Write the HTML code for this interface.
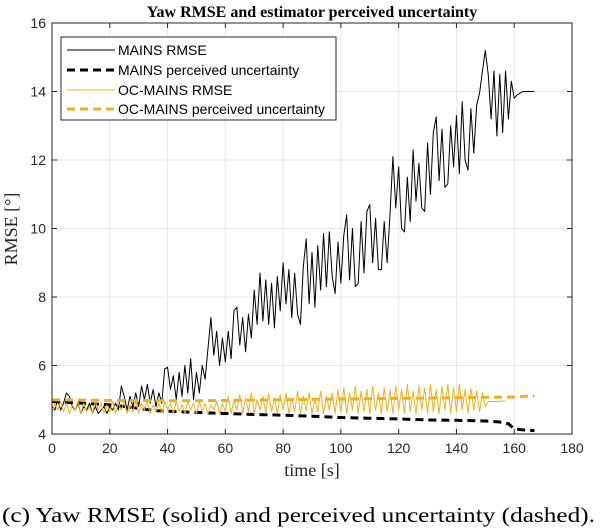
<!DOCTYPE html>
<html><head><meta charset="utf-8"><style>
html,body{margin:0;padding:0;background:#fff;width:600px;height:532px;overflow:hidden}
svg{display:block}
</style></head><body>
<svg id="chart" width="600" height="532" xmlns="http://www.w3.org/2000/svg">
<text x="312" y="17" text-anchor="middle" font-family="Liberation Serif, serif" font-weight="bold" font-size="16">Yaw RMSE and estimator perceived uncertainty</text>
<g id="grid"></g>
<g id="series"></g>
<rect x="52" y="23" width="520" height="411" fill="none" stroke="#262626" stroke-width="1"/>
<g id="ticks"></g>
<text transform="translate(17,229) rotate(-90)" text-anchor="middle" font-family="Liberation Serif, serif" font-size="18" fill="#262626">RMSE [°]</text>
<text x="312" y="476" text-anchor="middle" font-family="Liberation Serif, serif" font-size="18" fill="#262626">time [s]</text>
<g>
<rect x="61" y="37" width="275" height="83" fill="#fff" stroke="#262626" stroke-width="1"/>
<line x1="67" y1="50" x2="115" y2="50" stroke="#000" stroke-width="1"/>
<text x="118" y="55" font-family="Liberation Sans, sans-serif" font-size="14">MAINS RMSE</text>
<line x1="67" y1="70" x2="115" y2="70" stroke="#000" stroke-width="3" stroke-dasharray="8,5"/>
<text x="118" y="75" font-family="Liberation Sans, sans-serif" font-size="14">MAINS perceived uncertainty</text>
<line x1="67" y1="90" x2="115" y2="90" stroke="#EDB120" stroke-width="1"/>
<text x="118" y="95" font-family="Liberation Sans, sans-serif" font-size="14">OC-MAINS RMSE</text>
<line x1="67" y1="109" x2="115" y2="109" stroke="#EDB120" stroke-width="3" stroke-dasharray="8,5"/>
<text x="118" y="114" font-family="Liberation Sans, sans-serif" font-size="14">OC-MAINS perceived uncertainty</text>
</g>
<text x="2" y="522" font-family="Liberation Serif, serif" font-size="21" textLength="593" lengthAdjust="spacingAndGlyphs">(c) Yaw RMSE (solid) and perceived uncertainty (dashed).</text>
</svg>
<script>
const xTicks=[0,20,40,60,80,100,120,140,160,180];
const yTicks=[4,6,8,10,12,14,16];
const mainsRmse=[4.8,4.7,5.0,4.7,4.9,5.2,5.1,4.8,4.7,4.9,4.6,4.8,4.7,4.9,4.6,4.8,4.6,4.7,4.8,4.6,
4.8,4.7,4.9,4.7,5.4,5.1,4.7,5.1,4.8,5.2,4.8,5.4,5.0,5.45,4.9,5.3,4.8,5.2,4.9,5.9,5.95,5.3,5.7,5.0,5.8,5.1,6.0,5.2,6.2,5.0,
5.8,5.2,6.0,5.6,6.5,7.4,6.3,7.0,6.0,6.8,6.1,7.0,6.2,7.6,7.7,6.6,7.4,6.4,7.5,6.8,
8.2,7.2,8.7,7.3,8.5,7.2,8.4,7.1,8.6,7.6,9.0,7.8,8.8,7.4,8.7,7.5,7.2,8.9,9.7,7.8,
9.3,7.7,9.5,8.2,9.85,8.3,9.9,8.6,8.1,9.6,8.4,9.8,10.4,8.5,10.0,8.3,8.4,10.2,8.7,10.5,
10.7,9.0,10.3,8.8,8.8,10.2,9.0,10.4,12.1,10.6,11.8,10.0,9.9,11.5,10.2,12.3,10.8,11.9,10.6,10.5,
12.5,11.0,12.8,13.26,11.4,12.9,11.2,11.3,13.0,11.8,13.3,11.6,13.7,12.0,11.7,13.5,12.2,13.6,13.95,14.6,
15.2,14.5,13.2,14.6,12.7,14.5,12.8,14.6,13.2,14.3,13.8,13.9,13.95,14.0,14.0,14.0,14.0,14.0];
const ocRmse=[4.6,4.9,4.7,4.95,4.65,4.9,4.6,4.85,4.7,4.95,4.6,4.9,4.65,4.8,4.6,4.95,4.7,4.9,4.6,4.85,
4.65,4.95,4.6,4.9,4.7,4.95,4.6,4.85,4.65,4.95,4.6,4.9,4.7,4.95,4.6,4.85,4.65,4.9,4.6,4.95,
4.7,4.9,4.6,4.95,4.65,4.85,4.6,4.95,4.7,4.9,4.6,4.95,4.65,4.9,4.6,4.85,4.7,4.95,4.6,4.9,
4.65,5.1,4.6,5.0,4.7,5.15,4.6,5.05,4.65,5.2,4.6,5.0,4.7,5.1,4.6,5.2,4.65,5.05,4.6,5.15,
4.7,5.2,4.6,5.05,4.65,5.25,4.6,5.1,4.7,5.2,4.6,5.0,4.65,5.25,4.6,5.1,4.7,5.2,4.6,5.3,
4.65,5.35,4.6,5.2,4.7,5.4,4.6,5.25,4.65,5.3,4.6,5.4,4.7,5.2,4.6,5.35,4.65,5.3,4.6,5.4,
4.7,5.3,4.6,5.45,4.65,5.25,4.6,5.4,4.7,5.35,4.6,5.45,4.65,5.3,4.6,5.4,4.7,5.45,4.6,5.35,
4.65,5.45,4.7,5.3,4.6,5.35,4.7,5.25,4.65,5.2,4.8,4.95,4.95,4.95,4.95,4.96,4.96,4.96];
const mainsUncT=[0,10,20,30,36,50,60,70,80,90,100,110,120,130,140,150,155,158,160,163,167];
const mainsUncV=[4.95,4.9,4.85,4.75,4.68,4.63,4.6,4.57,4.55,4.52,4.48,4.46,4.44,4.41,4.4,4.38,4.35,4.3,4.15,4.12,4.1];
const ocUncT=[0,20,40,60,80,100,120,140,160,167];
const ocUncV=[5.0,4.98,4.97,4.98,5.0,5.02,5.04,5.06,5.08,5.12];

const NS='http://www.w3.org/2000/svg';
const X0=52,X1=572,Y0=434,Y1=23;
function sx(t){return X0+(t-0)/(180-0)*(X1-X0);}
function sy(v){return Y0-(v-4)/(16-4)*(Y0-Y1);}
function mk(tag,attrs,parent){const e=document.createElementNS(NS,tag);for(const k in attrs)e.setAttribute(k,attrs[k]);parent.appendChild(e);return e;}
const grid=document.getElementById('grid'),ticks=document.getElementById('ticks'),ser=document.getElementById('series');
xTicks.forEach(t=>{
  const g=mk('line',{x1:sx(t),x2:sx(t),y1:Y1,y2:Y0,stroke:'#e6e6e6','stroke-width':1},grid);
  
  
  const tk=mk('line',{x1:sx(t),x2:sx(t),y1:Y0,y2:Y0-5,stroke:'#262626'},ticks);
  
  
  const tk2=mk('line',{x1:sx(t),x2:sx(t),y1:Y1,y2:Y1+5,stroke:'#262626'},ticks);
  
  
  const l=mk('text',{x:sx(t),y:Y0+19,'text-anchor':'middle','font-family':'Liberation Sans, sans-serif','font-size':14,fill:'#262626'},ticks);
  l.textContent=t;
  
  
});
yTicks.forEach(v=>{
  const g=mk('line',{x1:X0,x2:X1,y1:sy(v),y2:sy(v),stroke:'#e6e6e6','stroke-width':1},grid);
  
  
  const tk=mk('line',{x1:X0,x2:X0+5,y1:sy(v),y2:sy(v),stroke:'#262626'},ticks);
  
  
  const tk2=mk('line',{x1:X1,x2:X1-5,y1:sy(v),y2:sy(v),stroke:'#262626'},ticks);
  
  
  const l=mk('text',{x:X0-6,y:sy(v)+5,'text-anchor':'end','font-family':'Liberation Sans, sans-serif','font-size':14,fill:'#262626'},ticks);
  l.textContent=v;
  
  
});
function pathFrom(ts,vs){return vs.map((v,i)=>(i?'L':'M')+sx(ts[i]).toFixed(2)+','+sy(v).toFixed(2)).join(' ');}
const idx=a=>a.map((_,i)=>i);
const p1=mk('path',{d:pathFrom(mainsUncT,mainsUncV),fill:'none',stroke:'#000','stroke-width':3,'stroke-dasharray':'8,5'},ser);


const p2=mk('path',{d:pathFrom(idx(mainsRmse),mainsRmse),fill:'none',stroke:'#000','stroke-width':1,'stroke-linejoin':'round'},ser);


const p3=mk('path',{d:pathFrom(ocUncT,ocUncV),fill:'none',stroke:'#EDB120','stroke-width':3,'stroke-dasharray':'8,5'},ser);


const p4=mk('path',{d:pathFrom(idx(ocRmse),ocRmse),fill:'none',stroke:'#EDB120','stroke-width':1,'stroke-linejoin':'round'},ser);


</script>
</body></html>
